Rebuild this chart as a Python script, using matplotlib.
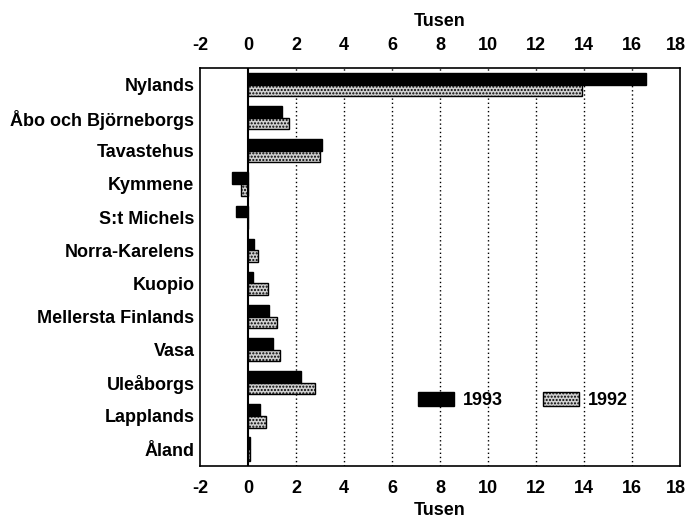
import matplotlib
matplotlib.use("Agg")
import matplotlib.pyplot as plt
import matplotlib.transforms as mtransforms
import numpy as np

plt.rcParams['font.family'] = ['Liberation Sans', 'DejaVu Sans']

regions = ["Nylands", "Åbo och Björneborgs", "Tavastehus", "Kymmene", "S:t Michels",
           "Norra-Karelens", "Kuopio", "Mellersta Finlands", "Vasa", "Uleåborgs",
           "Lapplands", "Åland"]
v1993 = [16.6, 1.43, 3.1, -0.68, -0.5, 0.25, 0.2, 0.87, 1.04, 2.2, 0.5, 0.07]
v1992 = [13.9, 1.7, 3.0, -0.3, 0.0, 0.43, 0.83, 1.22, 1.35, 2.78, 0.76, 0.08]
xticks = list(range(-2, 19, 2))

FS = 13
fig = plt.figure(figsize=(6.88, 5.2), dpi=100)
ax = fig.add_axes([0.2907, 0.1045, 0.6977, 0.7647])

y = np.arange(len(regions))
h = 0.35
ax.barh(y - h / 2, v1993, height=h, color='black', edgecolor='black', linewidth=1, label='1993', zorder=3)
plt.rcParams['hatch.color'] = '#555555'
ax.barh(y + h / 2, v1992, height=h, color='#d0d0d0', edgecolor='black', linewidth=1,
        hatch='.....', label='1992', zorder=3)
plt.rcParams['hatch.color'] = 'black'

ax.set_xlim(-2, 18)
ax.set_ylim(len(regions) - 0.5, -0.5)
ax.set_xticks(xticks)
ax.set_xticklabels([str(t) for t in xticks], fontsize=FS, fontweight='bold')
ax.set_yticks(y)
ax.set_yticklabels(regions, fontsize=FS, fontweight='bold')
ax.tick_params(axis='x', bottom=True, top=True, labeltop=True, length=0, pad=10)
ax.tick_params(axis='y', length=0, pad=4)

# nudge the last labels slightly inward so they stay inside the canvas
shift = mtransforms.ScaledTranslation(-3 / 72, 0, fig.dpi_scale_trans)
last = ax.xaxis.get_major_ticks()[-1]
last.label1.set_transform(last.label1.get_transform() + shift)
last.label2.set_transform(last.label2.get_transform() + shift)

ax.set_xlabel("Tusen", fontsize=FS, fontweight='bold', labelpad=4)
sec = ax.secondary_xaxis('top')
sec.set_xticks([])
sec.set_xlabel("Tusen", fontsize=FS, fontweight='bold', labelpad=30)
sec.spines['top'].set_visible(False)

for t in xticks:
    if t not in (-2, 0, 18):
        ax.axvline(t, color='black', linestyle=(0, (1, 2)), linewidth=1, zorder=1)
ax.axvline(0, color='black', linewidth=1.5, zorder=4)

for s in ax.spines.values():
    s.set_linewidth(1.2)

fig.legend(*ax.get_legend_handles_labels(), loc='upper left',
           bbox_to_anchor=(418 / 688, 1 - 392 / 520), bbox_transform=fig.transFigure,
           ncol=2, frameon=False, borderpad=0, borderaxespad=0,
           prop={'size': FS, 'weight': 'bold'}, handlelength=2.0, handleheight=0.85,
           columnspacing=2.2, handletextpad=0.5)

fig.savefig("out.png", dpi=100)
